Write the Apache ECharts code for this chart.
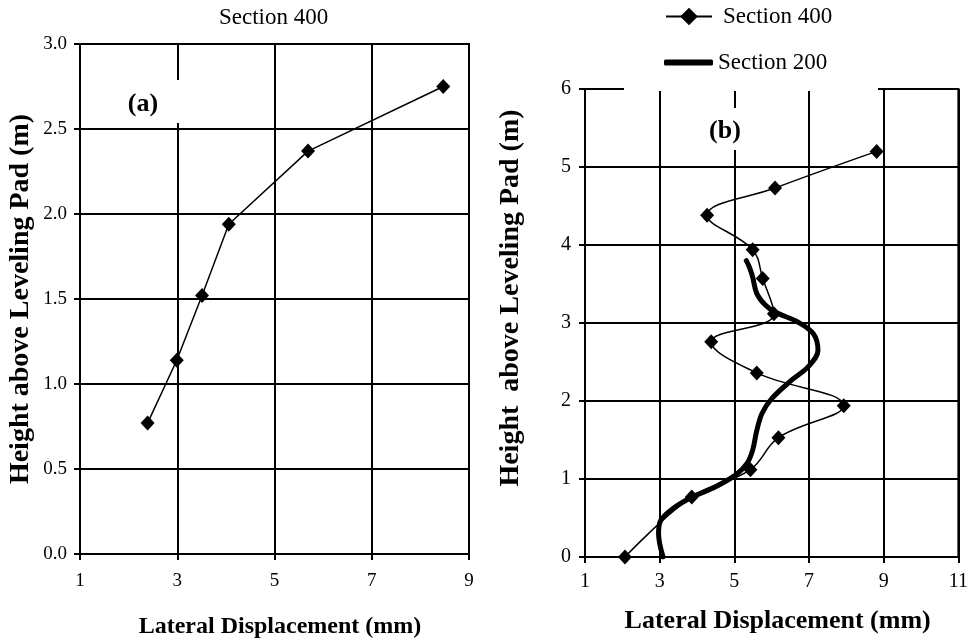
<!DOCTYPE html>
<html><head><meta charset="utf-8">
<script src="https://cdn.jsdelivr.net/npm/echarts@6/dist/echarts.min.js"></script>
<style>html,body{margin:0;padding:0;background:#fff}#c{width:971px;height:644px}</style>
</head><body><div id="c"></div>
<script>
// Panel (a): Section 400
const aX = [2.39, 2.99, 3.51, 4.06, 5.69, 8.47];
const aY = [0.77, 1.14, 1.52, 1.94, 2.37, 2.75];
// Panel (b): Section 400
const b400X = [2.07, 3.86, 5.43, 6.18, 7.93, 5.60, 4.38, 6.06, 5.76, 5.49, 4.27, 6.09, 8.81];
const b400Y = [0, 0.77, 1.12, 1.53, 1.94, 2.36, 2.76, 3.12, 3.57, 3.94, 4.38, 4.73, 5.20];
// Panel (b): Section 200
const b200X = [3.09, 2.97, 3.03, 3.35, 3.87, 4.41, 5.03, 5.34, 5.49, 5.60, 5.74, 6.00, 6.54, 6.98, 7.24, 7.12, 6.71, 6.09, 5.83, 5.60, 5.49, 5.40, 5.32];
const b200Y = [0, 0.30, 0.47, 0.62, 0.77, 0.88, 1.05, 1.20, 1.37, 1.62, 1.84, 2.03, 2.27, 2.44, 2.65, 2.86, 3.01, 3.14, 3.23, 3.38, 3.59, 3.72, 3.80];
// Tick labels
const xTicksA = [1, 3, 5, 7, 9];
const xTicksB = [1, 3, 5, 7, 9, 11];

const FONT = "'Liberation Serif','Times New Roman',serif";
const pair = (xs, ys) => xs.map((x, i) => [x, ys[i]]);

function xAxis(gi, ticks, max, fs, margin, nameGap, nameFs, pad) {
  return {
    type: 'value', gridIndex: gi, min: ticks[0], max: max,
    name: 'Lateral Displacement (mm)', nameLocation: 'middle', nameGap: nameGap,
    nameTextStyle: {fontFamily: FONT, fontWeight: 'bold', fontSize: nameFs, color: '#000', padding: pad},
    axisLine: {show: true, onZero: false, lineStyle: {color: '#000', width: 2}},
    axisTick: {show: true, length: 6, inside: false, customValues: ticks, lineStyle: {color: '#000', width: 2}},
    axisLabel: {customValues: ticks, fontFamily: FONT, fontSize: fs, color: '#000', margin: margin},
    splitLine: {show: true, lineStyle: {color: '#000', width: 2}}
  };
}

const option = {
  animation: false,
  backgroundColor: '#fff',
  title: {text: 'Section 400', left: 219, top: 6, padding: 0,
    textStyle: {fontFamily: FONT, fontSize: 23, fontWeight: 'normal', color: '#000'}},
  legend: [
    {data: ['Section 400'], left: 665, top: 5, padding: 0, itemWidth: 46, itemHeight: 22, z: 20,
     textStyle: {fontFamily: FONT, fontSize: 23, color: '#000', padding: [0, 0, 0, 6]}},
    {data: [{name: 'Section 200', icon: 'roundRect'}], left: 664, top: 51, padding: 0, itemWidth: 49, itemHeight: 6, z: 20,
     textStyle: {fontFamily: FONT, fontSize: 23, color: '#000'}}
  ],
  grid: [
    {left: 80, top: 44, width: 389, height: 510, show: true, borderColor: '#000', borderWidth: 2, containLabel: false},
    {left: 585, top: 89, width: 376, height: 468, show: true, borderColor: '#000', borderWidth: 2, containLabel: false}
  ],
  xAxis: [
    xAxis(0, xTicksA, 9, 19, 18, 61, 24, [0, 0, 0, 11]),
    xAxis(1, xTicksB, 11, 20, 15, 51, 26, [0, 0, 0, 12])
  ],
  yAxis: [
    {type: 'value', gridIndex: 0, min: 0, max: 3, interval: 0.5,
     name: 'Height above Leveling Pad (m)', nameLocation: 'middle', nameGap: 45, nameRotate: 90,
     nameTextStyle: {fontFamily: FONT, fontWeight: 'bold', fontSize: 28, color: '#000'},
     axisLine: {show: true, lineStyle: {color: '#000', width: 2}},
     axisTick: {show: true, length: 6, lineStyle: {color: '#000', width: 2}},
     axisLabel: {fontFamily: FONT, fontSize: 19, color: '#000', margin: 13, formatter: v => v.toFixed(1)},
     splitLine: {show: true, lineStyle: {color: '#000', width: 2}}},
    {type: 'value', gridIndex: 1, min: 0, max: 6, interval: 1,
     name: 'Height  above Leveling Pad (m)', nameLocation: 'middle', nameGap: 60, nameRotate: 90,
     nameTextStyle: {fontFamily: FONT, fontWeight: 'bold', fontSize: 28, color: '#000', padding: [0, 0, 0, 50]},
     axisLine: {show: true, lineStyle: {color: '#000', width: 2}},
     axisTick: {show: true, length: 6, lineStyle: {color: '#000', width: 2}},
     axisLabel: {fontFamily: FONT, fontSize: 20, color: '#000', margin: 14},
     splitLine: {show: true, lineStyle: {color: '#000', width: 2}}}
  ],
  graphic: [
    {type: 'rect', z: 3, shape: {x: 110, y: 80, width: 78, height: 43}, style: {fill: '#fff'}, silent: true},
    {type: 'text', z: 10, x: 143, y: 104, style: {text: '(a)', font: "bold 26px " + FONT, fill: '#000', align: 'center', verticalAlign: 'middle'}},
    {type: 'rect', z: 3, shape: {x: 700, y: 108, width: 45, height: 42}, style: {fill: '#fff'}, silent: true},
    {type: 'text', z: 10, x: 725, y: 131, style: {text: '(b)', font: "bold 26px " + FONT, fill: '#000', align: 'center', verticalAlign: 'middle'}},
    {type: 'rect', z: 3, shape: {x: 624, y: 0, width: 254, height: 91}, style: {fill: '#fff'}, silent: true}
  ],
  series: [
    {name: 'Section 400', type: 'line', xAxisIndex: 0, yAxisIndex: 0, data: pair(aX, aY),
     symbol: 'diamond', symbolSize: [14, 15], itemStyle: {color: '#000'}, lineStyle: {color: '#000', width: 1.5}},
    {name: 'Section 400', type: 'line', xAxisIndex: 1, yAxisIndex: 1, data: pair(b400X, b400Y), smooth: 0.4,
     symbol: 'diamond', symbolSize: [14, 15], itemStyle: {color: '#000'}, lineStyle: {color: '#000', width: 1.5}},
    {name: 'Section 200', type: 'line', xAxisIndex: 1, yAxisIndex: 1, data: pair(b200X, b200Y), smooth: 0.35,
     symbol: 'none', showSymbol: false, itemStyle: {color: '#000'}, lineStyle: {color: '#000', width: 5, cap: 'round'}}
  ]
};
const chart = echarts.init(document.getElementById('c'), null, {renderer: 'canvas'});
chart.setOption(option);
</script></body></html>
